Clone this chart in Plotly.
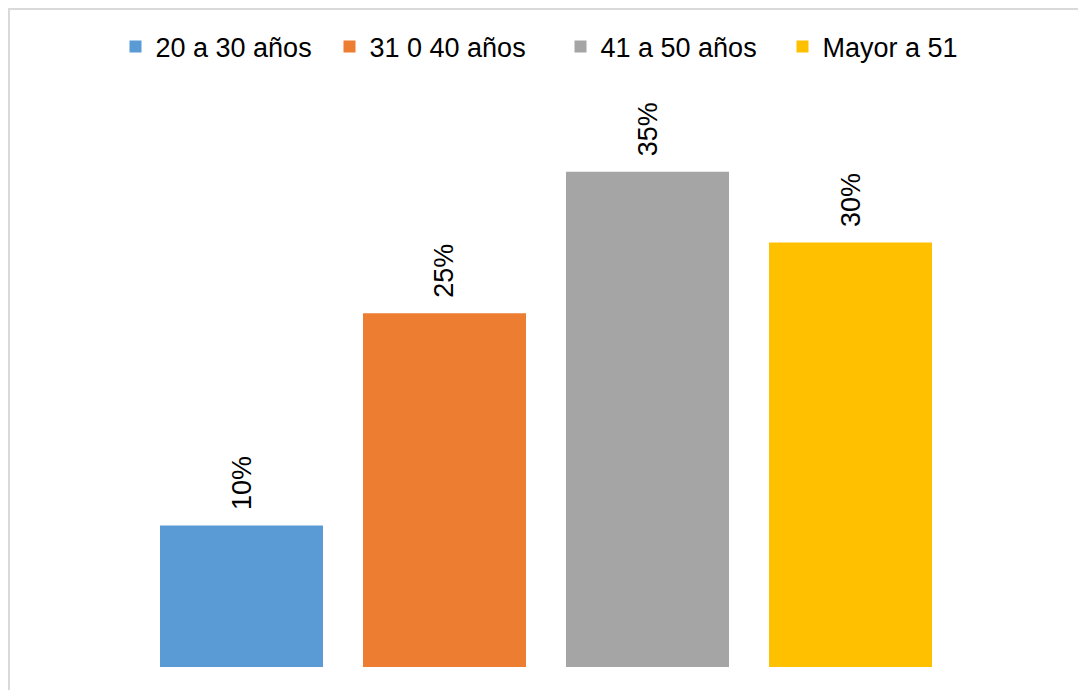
import plotly.graph_objects as go

# Age groups and their share of respondents (%)
categories = ["20 a 30 años", "31 0 40 años", "41 a 50 años", "Mayor a 51"]
values = [10, 25, 35, 30]
colors = ["#5B9BD5", "#ED7D31", "#A5A5A5", "#FFC000"]
# horizontal room given to each legend entry's text
legend_widths = [169, 186, 177, 133]

W, H = 1078, 690
PLOT_X0, PLOT_X1 = 140, 952          # horizontal extent of the bar area (px)
T, B = 101, 23
FONT = "Liberation Sans, Arial, sans-serif"

fig = go.Figure()
for cat, val, col, lw in zip(categories, values, colors, legend_widths):
    fig.add_trace(go.Bar(
        x=[cat], y=[val / 100], name=cat,
        marker=dict(color=col, line=dict(width=0)),
        legendwidth=lw,
        hoverinfo="skip",
    ))
    # rotated percentage label above each bar
    fig.add_annotation(
        x=cat, y=val / 100, text=f"{val}%", textangle=-90,
        showarrow=False, yanchor="bottom", yshift=13,
        font=dict(family=FONT, size=27, color="#000000"),
    )

# light grey frame around the chart area
ph = H - T - B
fig.add_shape(
    type="rect", xref="paper", yref="paper",
    x0=9 / W, x1=(W + 20) / W,
    y0=-(B + 20) / ph, y1=(H - 9 - B) / ph,
    line=dict(color="#D9D9D9", width=2), fillcolor="rgba(0,0,0,0)",
    layer="below",
)

fig.update_layout(
    width=W, height=H,
    margin=dict(l=0, r=0, t=T, b=B),
    paper_bgcolor="white", plot_bgcolor="white",
    barmode="overlay", bargap=0.197,
    font=dict(family=FONT, size=27, color="#000000"),
    showlegend=True,
    legend=dict(
        orientation="h", xref="container", yref="container",
        x=538 / W, xanchor="center", y=1 - 47 / H, yanchor="middle",
        bgcolor="rgba(0,0,0,0)",
        font=dict(family=FONT, size=27, color="#000000"),
        itemwidth=30, tracegroupgap=0,
    ),
    xaxis=dict(visible=False, range=[-0.5, 3.5],
               domain=[PLOT_X0 / W, PLOT_X1 / W]),
    yaxis=dict(visible=False, range=[0, 0.4]),
)

fig.write_html("out.html")
